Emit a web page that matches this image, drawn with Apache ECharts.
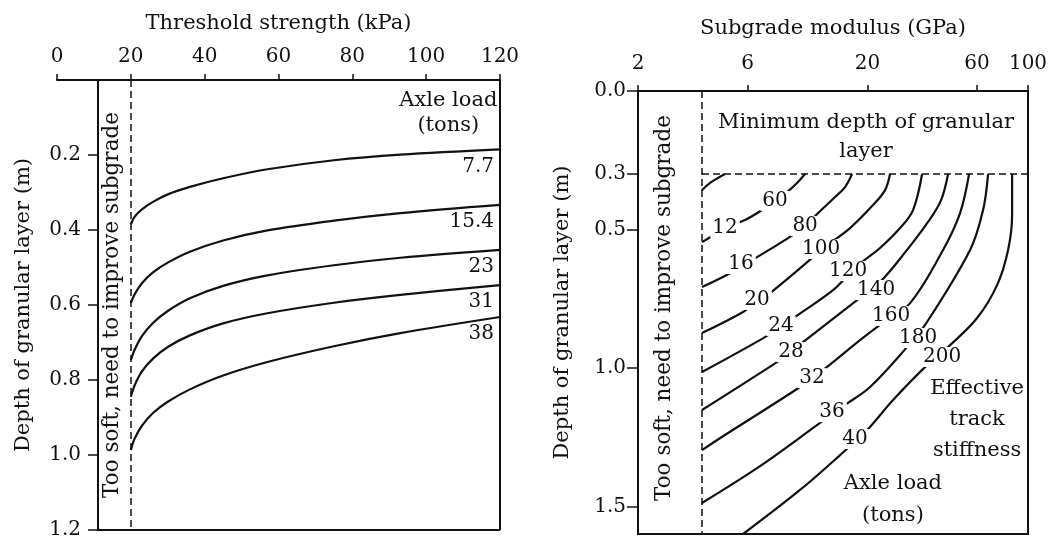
<!DOCTYPE html>
<html>
<head>
<meta charset="utf-8">
<script src="https://cdn.jsdelivr.net/npm/echarts@6.0.0/dist/echarts.min.js"></script>
<style>
  html, body { margin: 0; padding: 0; background: #fff; }
  #main { width: 1060px; height: 540px; }
</style>
</head>
<body>
<div id="main"></div>
<script>
// ---- left panel: threshold strength (kPa) vs depth (m) ----
var thresholdRange = [0, 120];
var depthRangeLeft = [0, 1.2];
var softLimitKpa = 20;      // dashed line
var boxLeftKpa = 11;        // where the left frame line sits
var leftLoads = ['7.7', '15.4', '23', '31', '38'];
var load77  = [[20,0.385],[21,0.365],[23,0.345],[26,0.325],[30,0.305],[36,0.285],[45,0.262],[57,0.238],[75,0.214],[93,0.199],[120,0.185]];
var load154 = [[20,0.595],[21,0.572],[23,0.542],[26,0.513],[30,0.487],[36,0.458],[45,0.428],[57,0.401],[75,0.375],[93,0.355],[120,0.333]];
var load23  = [[20,0.747],[21,0.720],[23,0.683],[26,0.648],[30,0.616],[36,0.582],[45,0.549],[57,0.521],[75,0.494],[93,0.474],[120,0.453]];
var load31  = [[20,0.845],[21,0.815],[23,0.777],[26,0.743],[30,0.712],[36,0.681],[45,0.649],[57,0.622],[75,0.594],[93,0.573],[120,0.547]];
var load38  = [[20,0.987],[21,0.957],[23,0.922],[26,0.888],[30,0.858],[36,0.825],[45,0.788],[57,0.752],[75,0.710],[93,0.675],[120,0.632]];
var leftCurves = [load77, load154, load23, load31, load38];

// ---- right panel: subgrade modulus (GPa, log) vs depth (m) ----
var modulusTicks = [2, 6, 20, 60, 100];
var depthTicksRight = [0, 0.3, 0.5, 1.0, 1.5];
var softLimitGpa = 3.8;
var minDepth = 0.3;
var curveArc = [[3.80,0.358],[4.12,0.332],[4.46,0.314],[4.79,0.300]];
var curve12 = [[3.80,0.546],[4.20,0.524],[4.79,0.495],[5.85,0.466],[6.94,0.430],[7.91,0.397],[8.92,0.365],[9.86,0.332],[10.69,0.300]];
var curve16 = [[3.80,0.708],[5.03,0.658],[5.62,0.630],[6.60,0.600],[9.19,0.527],[10.69,0.488],[12.17,0.441],[14.44,0.383],[15.96,0.347],[17.12,0.300]];
var curve20 = [[3.80,0.874],[5.74,0.798],[6.60,0.760],[7.52,0.730],[11.57,0.600],[12.54,0.571],[13.73,0.549],[16.78,0.495],[21.13,0.412],[23.84,0.358],[25.06,0.300]];
var curve24 = [[3.80,1.015],[7.15,0.889],[8.40,0.849],[9.66,0.816],[14.15,0.719],[16.45,0.665],[18.93,0.618],[22.67,0.567],[27.71,0.495],[31.57,0.430],[34.56,0.300]];
var curve28 = [[3.80,1.152],[8.07,0.979],[9.28,0.943],[10.47,0.907],[18.00,0.755],[22.67,0.690],[29.72,0.574],[36.69,0.473],[41.82,0.394],[44.86,0.300]];
var curve32 = [[3.80,1.297],[4.55,1.254],[10.16,1.069],[12.80,1.008],[18.55,0.900],[22.67,0.845],[30.64,0.766],[42.66,0.574],[50.59,0.441],[55.38,0.300]];
var curve36 = [[3.80,1.488],[6.80,1.355],[12.42,1.199],[15.96,1.134],[20.51,1.069],[29.72,0.925],[35.61,0.845],[55.94,0.574],[63.73,0.430],[67.00,0.300]];
var curve40 = [[5.74,1.600],[10.16,1.441],[15.18,1.315],[19.90,1.225],[25.83,1.116],[36.34,0.990],[45.77,0.918],[60.00,0.820],[73.33,0.701],[81.90,0.574],[85.26,0.448],[85.26,0.300]];
var rightCurves = [curveArc, curve12, curve16, curve20, curve24, curve28, curve32, curve36, curve40];
var axleLoadsRight = ['12', '16', '20', '24', '28', '32', '36', '40'];
var stiffnessValues = ['60', '80', '100', '120', '140', '160', '180', '200'];
// where each number sits on its curve
var axleLabelAt  = [[4.79,0.495],[5.62,0.625],[6.60,0.755],[8.40,0.849],[9.28,0.943],[11.46,1.037],[14.01,1.160],[17.64,1.257]];
var stiffLabelAt = [[7.91,0.397],[10.69,0.488],[12.54,0.571],[16.45,0.650],[21.78,0.719],[25.32,0.813],[33.19,0.892],[42.24,0.961]];

var INK = '#111';
var FONT = 'DejaVu Serif';

var series = [];
leftCurves.forEach(function (c) {
  series.push({
    type: 'line', xAxisIndex: 0, yAxisIndex: 0, data: c,
    smooth: 0.35, symbol: 'none', lineStyle: { color: INK, width: 2.2 },
    silent: true, z: 3
  });
});
rightCurves.forEach(function (c) {
  series.push({
    type: 'line', xAxisIndex: 1, yAxisIndex: 1, data: c,
    smooth: 0.35, symbol: 'none', lineStyle: { color: INK, width: 2.2 },
    silent: true, z: 3
  });
});
// frame and dashed limits
series[0].markLine = {
  silent: true, symbol: ['none', 'none'], label: { show: false },
  lineStyle: { color: INK, width: 2, type: 'solid' },
  data: [
    [{ coord: [boxLeftKpa, depthRangeLeft[1]] }, { coord: [thresholdRange[1], depthRangeLeft[1]] }],
    [{ coord: [thresholdRange[1], 0] }, { coord: [thresholdRange[1], depthRangeLeft[1]] }],
    [{ coord: [softLimitKpa, 0], lineStyle: { type: [7, 4], width: 1.5 } }, { coord: [softLimitKpa, depthRangeLeft[1]] }]
  ]
};
series[5].markLine = {
  silent: true, symbol: ['none', 'none'], label: { show: false },
  lineStyle: { color: INK, width: 1.5, type: [7, 4] },
  data: [
    [{ coord: [softLimitGpa, 0] }, { coord: [softLimitGpa, 1.6] }],
    [{ coord: [softLimitGpa, minDepth] }, { coord: [100, minDepth] }]
  ]
};

var tickText = { color: INK, fontFamily: FONT, fontSize: 20 };
var nameText = { color: INK, fontFamily: FONT, fontSize: 21 };
var option = {
  animation: false,
  textStyle: { fontFamily: FONT, color: INK },
  grid: [
    { left: 57, top: 80, width: 443, height: 450, outerBoundsMode: 'none' },
    { left: 638, top: 91, width: 390, height: 443, outerBoundsMode: 'none',
      show: true, borderColor: INK, borderWidth: 2, backgroundColor: 'transparent' }
  ],
  xAxis: [
    {
      gridIndex: 0, type: 'value', position: 'top',
      min: thresholdRange[0], max: thresholdRange[1], interval: 20,
      name: 'Threshold strength (kPa)', nameLocation: 'middle', nameGap: 46,
      nameTextStyle: nameText,
      axisLine: { lineStyle: { color: INK, width: 2 } },
      axisTick: { length: 6, lineStyle: { color: INK, width: 1.5 } },
      axisLabel: Object.assign({ margin: 13 }, tickText),
      splitLine: { show: false }
    },
    {
      gridIndex: 1, type: 'log', logBase: 10, position: 'top',
      min: 2, max: 100,
      name: 'Subgrade modulus (GPa)', nameLocation: 'middle', nameGap: 52,
      nameTextStyle: nameText,
      axisLine: { lineStyle: { color: INK, width: 2 } },
      axisTick: { customValues: modulusTicks, length: 6, lineStyle: { color: INK, width: 1.5 } },
      axisLabel: Object.assign({ customValues: modulusTicks, margin: 17 }, tickText),
      minorTick: { show: false },
      splitLine: { show: false }
    }
  ],
  yAxis: [
    {
      gridIndex: 0, type: 'value', inverse: true, offset: -41,
      min: depthRangeLeft[0], max: depthRangeLeft[1], interval: 0.2,
      name: 'Depth of granular layer (m)', nameLocation: 'middle', nameGap: 64,
      nameTextStyle: nameText,
      axisLine: { show: true, lineStyle: { color: INK, width: 2 } },
      axisTick: { show: true, length: 10, lineStyle: { color: INK, width: 1.5 } },
      axisLabel: Object.assign({ margin: 17, showMinLabel: false,
        formatter: function (v) { return v.toFixed(1); } }, tickText),
      splitLine: { show: false }
    },
    {
      gridIndex: 1, type: 'value', inverse: true, min: 0, max: 1.6,
      name: 'Depth of granular layer (m)', nameLocation: 'middle', nameGap: 65,
      nameTextStyle: nameText,
      axisLine: { show: true, lineStyle: { color: INK, width: 2 } },
      axisTick: { show: true, customValues: depthTicksRight, length: 11, lineStyle: { color: INK, width: 1.5 } },
      axisLabel: Object.assign({ customValues: depthTicksRight, margin: 12,
        formatter: function (v) { return v.toFixed(1); } }, tickText),
      splitLine: { show: false }
    }
  ],
  series: series
};

var chart = echarts.init(document.getElementById('main'));
chart.setOption(option);

function px(grid, coord) {
  return chart.convertToPixel({ xAxisIndex: grid, yAxisIndex: grid }, coord);
}
function label(p, text, extra) {
  var st = { text: text, x: 0, y: 0, fill: INK, font: '21px "DejaVu Serif"',
             align: 'center', verticalAlign: 'middle' };
  Object.assign(st, (extra && extra.style) || {});
  return { type: 'text', x: p[0], y: p[1], rotation: (extra && extra.rotation) || 0, z: 100, style: st };
}

var g = [];
// left panel texts
g.push(label(px(0, [106, 0.089]), 'Axle load\n(tons)', { style: { lineHeight: 25 } }));
leftCurves.forEach(function (c, i) {
  var end = px(0, c[c.length - 1]);
  g.push(label([end[0] - 6, end[1] + 17], leftLoads[i], { style: { align: 'right', font: '20px "DejaVu Serif"' } }));
});
g.push(label(px(0, [14.9, 0.60]), 'Too soft, need to improve subgrade', { rotation: Math.PI / 2, style: { font: '21.5px "DejaVu Serif"' } }));

// right panel texts
g.push(label(px(1, [2.6, 0.784]), 'Too soft, need to improve subgrade', { rotation: Math.PI / 2, style: { font: '21.5px "DejaVu Serif"' } }));
g.push(label(px(1, [19.7, 0.168]), 'Minimum depth of granular\nlayer', { style: { lineHeight: 29 } }));
g.push(label(px(1, [60, 1.185]), 'Effective\ntrack\nstiffness', { style: { lineHeight: 31 } }));
g.push(label(px(1, [25.8, 1.474]), 'Axle load\n(tons)', { style: { lineHeight: 32 } }));
axleLoadsRight.forEach(function (t, i) {
  g.push(label(px(1, axleLabelAt[i]), t, { style: { font: '20px "DejaVu Serif"', backgroundColor: '#fff', padding: [0, 2] } }));
});
stiffnessValues.forEach(function (t, i) {
  g.push(label(px(1, stiffLabelAt[i]), t, { style: { font: '20px "DejaVu Serif"', backgroundColor: '#fff', padding: [0, 2] } }));
});
chart.setOption({ graphic: g });
</script>
</body>
</html>
